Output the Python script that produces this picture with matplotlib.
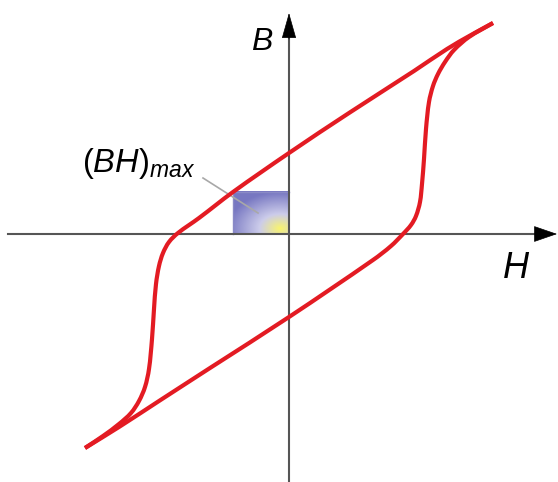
import matplotlib
matplotlib.use('Agg')
import matplotlib.pyplot as plt
from matplotlib.path import Path
from matplotlib.patches import PathPatch
import numpy as np

# hysteresis loop of a hard magnet (arbitrary units)
upper_h = [-204, -186, -170, -158, -150, -144, -140, -137, -135, -133, -130,
           -126, -120, -111, -90, -56, 0, 60, 125, 158, 182, 204]
upper_b = [-214, -202, -190, -179, -167, -153, -135, -105, -75, -50, -32,
           -19, -8, 1, 16, 42, 81, 121, 163, 185, 199, 211]

lower_h = [-204, -170, -130, -79, 0, 84, 102, 114, 122, 127, 131, 133, 135,
           137, 140, 144, 149, 156, 165, 180, 204]
lower_b = [-214, -193, -167, -134, -83, -26, -12, 0, 9, 18, 32, 50, 75,
           105, 132, 148, 160, 172, 184, 197, 211]

# working point of the (BH)max rectangle
bh_h = -56
bh_b = 42

RED = '#e31b23'
AXIS = '#555555'

plt.rcParams['mathtext.fontset'] = 'custom'
plt.rcParams['mathtext.rm'] = 'Liberation Sans'
plt.rcParams['mathtext.it'] = 'Liberation Sans:italic'


def smooth_path(xs, ys):
    # cubic bezier through the read points, tangents from the neighbours
    p = np.column_stack([xs, ys]).astype(float)
    n = len(p)
    tang = np.zeros_like(p)
    for i in range(n):
        a = p[max(i - 1, 0)]
        b = p[min(i + 1, n - 1)]
        v = b - a
        tang[i] = v / np.hypot(*v)
    verts = [p[0]]
    codes = [Path.MOVETO]
    for i in range(n - 1):
        seg = np.hypot(*(p[i + 1] - p[i])) / 3.0
        verts += [p[i] + tang[i] * seg, p[i + 1] - tang[i + 1] * seg, p[i + 1]]
        codes += [Path.CURVE4] * 3
    return Path(verts, codes)


fig = plt.figure(figsize=(5.58, 4.82), dpi=100)
ax = fig.add_axes([0, 0, 1, 1])
ax.set_xlim(-289, 269)
ax.set_ylim(-248, 234)
ax.axis('off')

# gradient filled (BH)max rectangle
nx, ny = 60, 45
gx, gy = np.meshgrid(np.linspace(0, 1, nx), np.linspace(0, 1, ny))
d = np.clip(np.hypot((gx - 0.85) * 1.0, (gy - 0.12) * 1.1) / 0.95, 0, 1)
c_in = np.array([0.98, 0.96, 0.42])
c_mid = np.array([0.80, 0.80, 0.92])
c_out = np.array([0.47, 0.47, 0.76])
t = d[..., None]
img = np.where(t < 0.4,
               c_in + (c_mid - c_in) * (t / 0.4),
               c_mid + (c_out - c_mid) * ((t - 0.4) / 0.6))
ax.imshow(img, extent=(bh_h, 0, 0, bh_b), origin='lower', aspect='auto',
          zorder=1, interpolation='bilinear')
ax.plot([bh_h, bh_h, 0], [0, bh_b, bh_b], color='#8a8ac6', lw=1.0, zorder=1.5)

# axes with arrows
ax.plot([-281, 250], [0, 0], color=AXIS, lw=1.5, zorder=2)
ax.plot([0, 0], [-248, 196], color=AXIS, lw=1.5, zorder=2)
ax.annotate('', xy=(268, 0), xytext=(246, 0),
            arrowprops=dict(arrowstyle='-|>,head_length=1.1,head_width=0.38',
                            mutation_scale=14, color='black', lw=0.5,
                            shrinkA=0, shrinkB=0), zorder=3)
ax.annotate('', xy=(0, 221), xytext=(0, 195),
            arrowprops=dict(arrowstyle='-|>,head_length=1.2,head_width=0.34',
                            mutation_scale=14, color='black', lw=0.5,
                            shrinkA=0, shrinkB=0), zorder=3)

# loop
for hs, bs in [(upper_h, upper_b), (lower_h, lower_b)]:
    ax.add_patch(PathPatch(smooth_path(hs, bs), facecolor='none',
                           edgecolor=RED, lw=3.0, capstyle='butt', zorder=4))

# labels
ax.text(-27, 192, 'B', fontsize=23, fontstyle='italic', family='Liberation Sans',
        ha='center', va='center', zorder=5)
ax.text(227, -34, 'H', fontsize=26, fontstyle='italic', family='Liberation Sans',
        ha='center', va='center', zorder=5)
ax.text(-207, 62, r'$(BH)_{max}$', fontsize=23.5, ha='left', va='baseline', zorder=5)
ax.plot([-86, -31], [56, 21], color='#a8a8a8', lw=1.2, zorder=2)

fig.savefig('out.png', dpi=100)
